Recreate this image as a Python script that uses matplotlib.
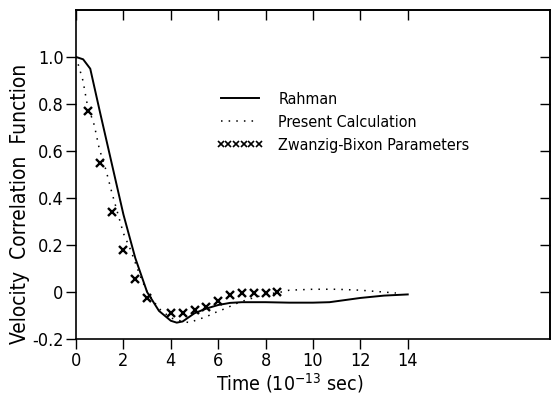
import numpy as np
import matplotlib
matplotlib.use("Agg")
import matplotlib.pyplot as plt
from matplotlib.legend_handler import HandlerLine2D

plt.rcParams['font.family'] = ['DejaVu Sans']
plt.rcParams['font.stretch'] = 'condensed'
plt.rcParams['mathtext.default'] = 'regular'
plt.rcParams['axes.unicode_minus'] = False

# Rahman (solid curve)
t_rahman = [0, 0.3, 0.6, 1.0, 1.5, 2.0, 2.5, 3.0, 3.5, 4.0, 4.25, 4.5, 5.0, 5.5, 6.0, 6.5,
            7.0, 8.0, 9.0, 10.0, 10.7, 12.0, 13.0, 14.0]
v_rahman = [1.0, 0.99, 0.95, 0.77, 0.55, 0.33, 0.145, 0.0, -0.08, -0.122, -0.13, -0.125,
            -0.09, -0.07, -0.055, -0.046, -0.043, -0.043, -0.045, -0.045, -0.043, -0.025,
            -0.015, -0.01]

# Present Calculation (dotted curve)
t_present = [0, 0.29, 0.47, 0.77, 0.98, 1.26, 1.52, 2.0, 2.3, 2.7, 3.0, 3.5, 4.0, 4.5, 4.8,
             5.1, 5.5, 5.8, 6.3, 6.85, 7.3, 8.0, 8.65, 9.0, 10.0, 11.0, 12.0, 13.0, 13.5]
v_present = [1.0, 0.90, 0.80, 0.71, 0.61, 0.52, 0.42, 0.25, 0.18, 0.07, 0.0, -0.07, -0.11,
             -0.125, -0.13, -0.118, -0.105, -0.09, -0.07, -0.045, -0.03, -0.01, 0.0, 0.008,
             0.012, 0.012, 0.008, 0.0, -0.004]

# Zwanzig-Bixon Parameters (x markers)
t_zb = [0.5, 1.0, 1.5, 2.0, 2.5, 3.0, 4.0, 4.5, 5.0, 5.5, 6.0, 6.5, 7.0, 7.5, 8.0, 8.5]
v_zb = [0.77, 0.55, 0.34, 0.18, 0.055, -0.025, -0.09, -0.09, -0.077, -0.062, -0.04,
        -0.013, -0.004, -0.004, -0.004, 0.0]

xticks = [0, 2, 4, 6, 8, 10, 12, 14]
yticks = [-0.2, 0, 0.2, 0.4, 0.6, 0.8, 1.0]
ytick_labels = ['-0.2', '0', '0.2', '0.4', '0.6', '0.8', '1.0']


# thinner, smaller x's in the legend key
def small_marks(handle, orig):
    handle.update_from(orig)
    handle.set_markersize(4.5)
    handle.set_markeredgewidth(1.2)


fig = plt.figure(figsize=(5.51, 3.98), dpi=100)
ax = fig.add_axes([0.138, 0.148, 0.860, 0.827])

ax.plot(t_rahman, v_rahman, color='black', lw=1.4, label='Rahman')
ax.plot(t_present, v_present, color='black', lw=1.1, linestyle=(0, (1, 4)),
        label='Present Calculation')
zb, = ax.plot(t_zb, v_zb, linestyle='none', marker='x', color='black', markersize=5.5,
              markeredgewidth=1.7, label='Zwanzig-Bixon Parameters')

ax.set_xlim(0, 20)
ax.set_ylim(-0.2, 1.2)
ax.set_xticks(xticks)
ax.set_yticks(yticks)
ax.set_yticklabels(ytick_labels)
ax.tick_params(direction='out', length=7, width=1, labelsize=13, pad=2)

top = ax.secondary_xaxis('top')
top.set_xticks(xticks)
top.tick_params(direction='in', length=7, width=1, labeltop=False)
right = ax.secondary_yaxis('right')
right.set_yticks(yticks[1:])
right.tick_params(direction='in', length=7, width=1, labelright=False)

for sp in list(ax.spines.values()) + [top.spines['top'], right.spines['right']]:
    sp.set_linewidth(1.2)

ax.set_xlabel('Time (10$^{-13}$ sec)', fontsize=14)
ax.xaxis.set_label_coords(0.45, -0.098)
ax.set_ylabel('Velocity  Correlation  Function', fontsize=15)
ax.yaxis.set_label_coords(-0.098, 0.41)

ax.legend(loc='upper left', bbox_to_anchor=(0.265, 0.795), frameon=False, numpoints=6,
          handlelength=3.0, handletextpad=0.9, labelspacing=0.5, fontsize=11.5,
          handler_map={zb: HandlerLine2D(numpoints=6, update_func=small_marks)})

fig.savefig('out.png', dpi=100)
